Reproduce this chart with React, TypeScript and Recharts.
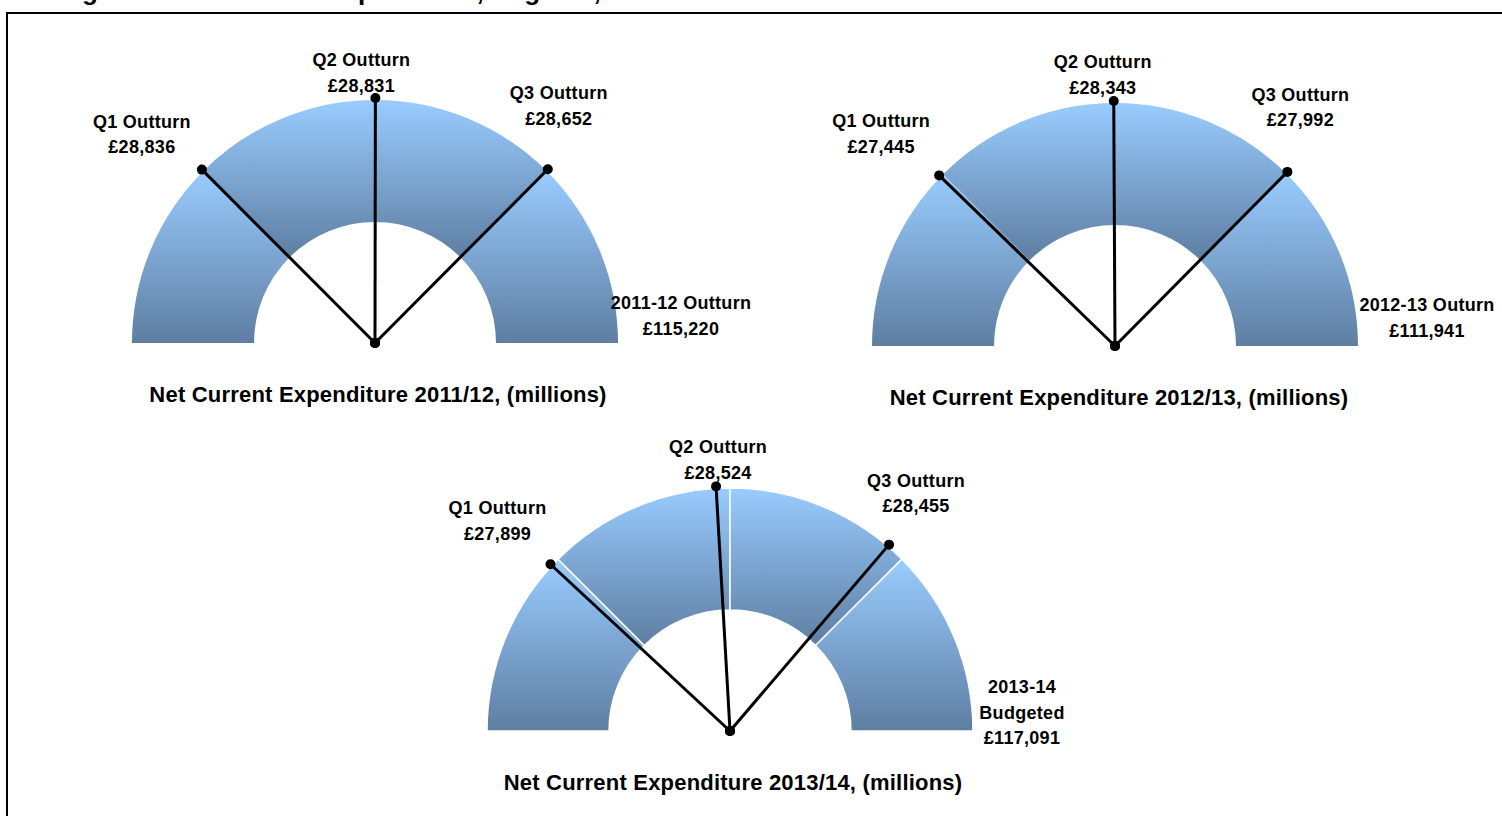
import React from 'react';
import { PieChart, Pie, Cell } from 'recharts';

// ---- data ----
const chartTitles = ['Net Current Expenditure 2011/12, (millions)', 'Net Current Expenditure 2012/13, (millions)', 'Net Current Expenditure 2013/14, (millions)'];
const quarterNames = ['Q1 Outturn', 'Q2 Outturn', 'Q3 Outturn'];
const quarters2011 = [28836, 28831, 28652];
const quarters2012 = [27445, 28343, 27992];
const quarters2013 = [27899, 28524, 28455];
const yearTotals = [115220, 111941, 117091];
const totalLabels = [['2011-12 Outturn'], ['2012-13 Outurn'], ['2013-14', 'Budgeted']];
const figureTitle = 'Figure 1: Net Current Expenditure, England, 2011-12 to 2013-14';

// ---- layout (positions / styles only) ----
const W = 1502;
const H = 816;
const FONT = '"Liberation Sans", Arial, sans-serif';
const centers = [
  { cx: 375, cy: 343 },
  { cx: 1115, cy: 346 },
  { cx: 730, cy: 731 },
];
const INNER = 121;
const OUTER = 243;
const NEEDLE = 245;
const bandStroke = ['none', 'none', '#ffffff'];
// label offsets [dx, dy of first baseline] relative to needle tip (Q1..Q3) / band end (total)
const labelOffsets = [
  [[-60, -42], [-14, -32], [11, -70], [63, -34]],
  [[-58, -48], [-11, -33], [13, -71], [69, -35]],
  [[-53, -50], [2, -33], [27, -58], [49, -38]],
];
const titleCenters = [
  { x: 378, y: 402 },
  { x: 1119, y: 405 },
  { x: 733, y: 790 },
];
const LINE = 25.5;

const allQuarters = [quarters2011, quarters2012, quarters2013];
const fmt = (v: number) => '£' + v.toLocaleString('en-GB');

const RAD = Math.PI / 180;
const polar = (cx: number, cy: number, r: number, angle: number) => ({
  x: cx + r * Math.cos(-angle * RAD),
  y: cy + r * Math.sin(-angle * RAD),
});

const labelStyle = { letterSpacing: '0.3px' };

const makeNeedleLabel = (g: number) => (props: any) => {
  const { cx, cy, endAngle, outerRadius, index } = props;
  const offs = labelOffsets[g][index];
  if (index < 3) {
    const tip = polar(cx, cy, outerRadius, endAngle);
    const lines = [quarterNames[index], fmt(allQuarters[g][index])];
    return (
      <g key={`n-${g}-${index}`}>
        <line x1={cx} y1={cy} x2={tip.x} y2={tip.y} stroke="#000" strokeWidth={3} />
        <circle cx={tip.x} cy={tip.y} r={5} fill="#000" />
        <circle cx={cx} cy={cy} r={5} fill="#000" />
        {lines.map((t, i) => (
          <text key={i} x={tip.x + offs[0]} y={tip.y + offs[1] + i * LINE} textAnchor="middle"
            fontFamily={FONT} fontWeight="bold" fontSize={18} fill="#000" style={labelStyle}>{t}</text>
        ))}
      </g>
    );
  }
  const end = polar(cx, cy, OUTER, 0);
  const lines = [...totalLabels[g], fmt(yearTotals[g])];
  return (
    <g key={`t-${g}`}>
      {lines.map((t, i) => (
        <text key={i} x={end.x + offs[0]} y={end.y + offs[1] + i * LINE} textAnchor="middle"
          fontFamily={FONT} fontWeight="bold" fontSize={18} fill="#000" style={labelStyle}>{t}</text>
      ))}
    </g>
  );
};

export default function App() {
  const gauges = allQuarters.map((qs, g) => {
    const total = yearTotals[g];
    const band = [0, 1, 2, 3].map((i) => ({ name: `Q${i + 1}`, value: total / 4 }));
    const sumQ = qs.reduce((a, b) => a + b, 0);
    const needles = [
      ...qs.map((v, i) => ({ name: quarterNames[i], value: v })),
      { name: 'rest', value: total - sumQ },
    ];
    return { band, needles };
  });

  return (
    <div style={{ position: 'absolute', left: 0, top: 0, width: W, height: H, background: '#fff', overflow: 'hidden' }}>
      <PieChart width={W} height={H} margin={{ top: 0, right: 0, bottom: 0, left: 0 }}>
        <defs>
          <linearGradient id="bandGrad" x1="0" y1="0" x2="0" y2="1">
            <stop offset="0%" stopColor="#99CCFF" />
            <stop offset="100%" stopColor="#5E7EA2" />
          </linearGradient>
        </defs>
        {gauges.map((gg, g) => (
          <Pie
            key={`band-${g}`}
            data={gg.band}
            dataKey="value"
            cx={centers[g].cx}
            cy={centers[g].cy}
            innerRadius={INNER}
            outerRadius={OUTER}
            startAngle={180}
            endAngle={0}
            stroke={bandStroke[g]}
            strokeWidth={1.5}
            isAnimationActive={false}
            label={false}
            labelLine={false}
          >
            {gg.band.map((_, i) => (
              <Cell key={i} fill="url(#bandGrad)" stroke={bandStroke[g]} />
            ))}
          </Pie>
        ))}
        {gauges.map((gg, g) => (
          <Pie
            key={`needle-${g}`}
            data={gg.needles}
            dataKey="value"
            cx={centers[g].cx}
            cy={centers[g].cy}
            innerRadius={0}
            outerRadius={NEEDLE}
            startAngle={180}
            endAngle={0}
            fill="none"
            stroke="none"
            isAnimationActive={false}
            labelLine={false}
            label={makeNeedleLabel(g)}
          >
            {gg.needles.map((_, i) => (
              <Cell key={i} fill="none" stroke="none" />
            ))}
          </Pie>
        ))}
      </PieChart>
      <svg width={W} height={H} style={{ position: 'absolute', left: 0, top: 0, pointerEvents: 'none' }}>
        <text x={59} y={0} fontFamily={FONT} fontWeight="bold" fontSize={26} fill="#000">{figureTitle}</text>
        <path d={`M7 ${H + 5} L7 13 L${W + 5} 13`} fill="none" stroke="#000" strokeWidth={2} />
        {chartTitles.map((t, i) => (
          <text key={i} x={titleCenters[i].x} y={titleCenters[i].y} textAnchor="middle"
            fontFamily={FONT} fontWeight="bold" fontSize={22} fill="#000" style={{ letterSpacing: '0.2px' }}>{t}</text>
        ))}
      </svg>
    </div>
  );
}
